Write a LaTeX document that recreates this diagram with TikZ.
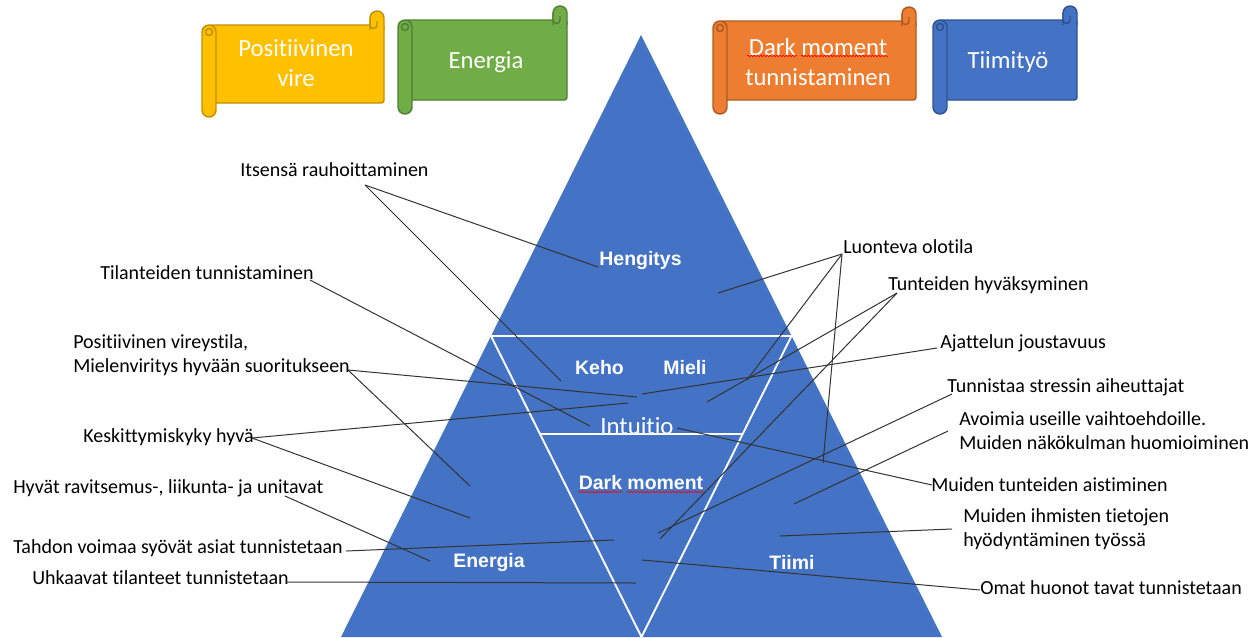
\documentclass[tikz,border=0pt]{standalone}
\usepackage{fontspec}
\setmainfont{Carlito}[Ligatures={NoCommon,NoContextual}]
\newfontfamily\boldsans{Liberation Sans}
\usetikzlibrary{decorations.pathmorphing}
\definecolor{pyrblue}{HTML}{4472C4}
\definecolor{scrYellow}{HTML}{FFC000}
\definecolor{scrYellowLine}{HTML}{BF9000}
\definecolor{scrGreen}{HTML}{70AD47}
\definecolor{scrGreenLine}{HTML}{507E32}
\definecolor{scrOrange}{HTML}{ED7D31}
\definecolor{scrOrangeLine}{HTML}{AE5A21}
\definecolor{scrBlue}{HTML}{4472C4}
\definecolor{scrBlueLine}{HTML}{2F528F}

% horizontal scroll: #1 left, #2 top of curl, #3 right, #4 bottom of body, #5 fill, #6 outline
\newcommand\drawscroll[6]{%
  \begin{scope}[fill=#5, draw=#6, line width=1.1pt, line join=round]
    \filldraw[rounded corners=2pt] ({#1+7},{#2+14}) rectangle (#3,#4);
    \filldraw ({#3-14},{#2+19}) -- ({#3-14},{#2+7}) arc (180:360:7) -- ({#3},{#2+19});
    \draw ({#3-14},{#2+7}) -- ({#3-14},{#2+14}) arc (180:0:3.5) -- ({#3-7},{#2+10});
    \filldraw ({#1},{#2+21}) -- ({#1},{#4+7}) arc (180:0:7) -- ({#1+14},{#2+21}) arc (0:-180:7) -- cycle;
    \draw ({#1+7},{#2+21}) circle (3.5);
  \end{scope}}

\tikzset{
  lbl/.style={anchor=west, inner sep=0pt, align=left, text=black,
    font=\fontsize{15}{18}\selectfont},
  inlbl/.style={inner sep=0pt, text=white,
    font=\boldsans\bfseries\fontsize{14.6}{17}\selectfont},
  scrtxt/.style={inner sep=0pt, text=white, align=center,
    font=\fontsize{18.5}{23}\selectfont},
  conn/.style={draw=black!80, line width=0.75pt},
  whiteline/.style={draw=white, line width=1.4pt},
  spell/.style={draw=red, line width=0.45pt, decorate,
    decoration={snake, amplitude=0.6pt, segment length=2.4pt}}
}

\begin{document}
\begin{tikzpicture}[x=0.75pt, y=-0.75pt]
\useasboundingbox (0,0) rectangle (1260,637);

% ---- scrolls ----
\drawscroll{202}{11}{384}{103}{scrYellow}{scrYellowLine}
\drawscroll{398}{6}{567}{100}{scrGreen}{scrGreenLine}
\drawscroll{713}{7}{916}{100}{scrOrange}{scrOrangeLine}
\drawscroll{933}{6}{1077}{100}{scrBlue}{scrBlueLine}
\node[scrtxt] (sPos) at (296,63) {Positiivinen\\vire};
\node[scrtxt] (sEne) at (486,62) {Energia};
\node[scrtxt] (sDark) at (818,62) {Dark moment\\tunnistaminen};
\node[scrtxt] (sTiim) at (1008,62) {Tiimityö};
\draw[spell] (747,56) -- (797,56);
\draw[spell] (801,56) -- (888,56);

% ---- pyramid ----
\coordinate (apex) at (641,35);
\coordinate (bl) at (341,637);
\coordinate (br) at (942,637);
\coordinate (ml) at (491,336);
\coordinate (mr) at (791.5,336);
\coordinate (mb) at (641.5,637);
\coordinate (hl) at (540,434);
\coordinate (hr) at (742.5,434);
\fill[pyrblue] (apex) -- (bl) -- (br) -- cycle;
\draw[whiteline] (ml) -- (mr);
\draw[whiteline] (ml) -- (mb) -- (mr);
\draw[whiteline, line width=1.1pt] (hl) -- (hr);

% ---- labels inside the pyramid ----
\node[inlbl] (heng) at (640.5,260) {Hengitys};
\node[inlbl] (keho) at (599.5,368) {Keho};
\node[inlbl] (mieli) at (685,368) {Mieli};
\node[inlbl] (dark) at (641,483) {Dark moment};
\node[inlbl] (ener) at (489,562) {Energia};
\node[inlbl] (tiimi) at (792,562) {Tiimi};
\node[inner sep=0pt, text=white, font=\fontsize{18.6}{22}\selectfont] (intu) at (637,426) {Intuitio};
\draw[spell] (578,492) -- (622,492);
\draw[spell] (627,492) -- (704,492);

% ---- left labels ----
\node[lbl] (lItse) at (240,170) {Itsensä rauhoittaminen};
\node[lbl] (lTila) at (100,273) {Tilanteiden tunnistaminen};
\node[lbl] (lPosi) at (73,355) {Positiivinen vireystila,\\Mielenviritys hyvään suoritukseen};
\node[lbl] (lKesk) at (83,437) {Keskittymiskyky hyvä};
\node[lbl] (lHyva) at (13,488) {Hyvät ravitsemus-, liikunta- ja unitavat};
\node[lbl] (lTahd) at (13,548) {Tahdon voimaa syövät asiat tunnistetaan};
\node[lbl] (lUhka) at (32,578) {Uhkaavat tilanteet tunnistetaan};

% ---- right labels ----
\node[lbl] (rLuon) at (843,247) {Luonteva olotila};
\node[lbl] (rTunt) at (888,285) {Tunteiden hyväksyminen};
\node[lbl] (rAjat) at (940,343) {Ajattelun joustavuus};
\node[lbl] (rStre) at (947,387) {Tunnistaa stressin aiheuttajat};
\node[lbl] (rAvoi) at (959,431) {Avoimia useille vaihtoehdoille.\\Muiden näkökulman huomioiminen};
\node[lbl] (rMuit) at (931,485) {Muiden tunteiden aistiminen};
\node[lbl] (rMuii) at (963,529) {Muiden ihmisten tietojen\\hyödyntäminen työssä};
\node[lbl] (rOmat) at (980,588) {Omat huonot tavat tunnistetaan};

% ---- connector end points ----
\coordinate (aItse) at (365,185);
\coordinate (aTila) at (310,280);
\coordinate (aPosi) at (348,370);
\coordinate (aKesk) at (252,438);
\coordinate (aHyva) at (285,496);
\coordinate (aTahd) at (346,551);
\coordinate (aUhka) at (286,582);
\coordinate (aLuon) at (842,254);
\coordinate (aTunt) at (897,293);
\coordinate (aAjat) at (937,348);
\coordinate (aStre) at (952,394);
\coordinate (aAvoi) at (948,431);
\coordinate (aMuit) at (932,485);
\coordinate (aMuii) at (952,529);
\coordinate (aOmat) at (980,590);

\coordinate (p1) at (598,267);
\coordinate (p2) at (561,381);
\coordinate (p3) at (590,426);
\coordinate (p4) at (637,397);
\coordinate (p5) at (470,486);
\coordinate (p6) at (628,403);
\coordinate (p7) at (470,518);
\coordinate (p8) at (430,561);
\coordinate (p9) at (614,540);
\coordinate (p10) at (636,583);
\coordinate (q1) at (718,293);
\coordinate (q2) at (747,380);
\coordinate (q3) at (823,463);
\coordinate (q4) at (707,402);
\coordinate (q5) at (660,539);
\coordinate (q6) at (642,394);
\coordinate (q7) at (658,533);
\coordinate (q8) at (794,504);
\coordinate (q10) at (780,536);
\coordinate (q11) at (642,560);
\coordinate (qIntu) at (677,428);

% ---- connectors ----
\draw[conn] (aItse) -- (p1);
\draw[conn] (aItse) -- (p2);
\draw[conn] (aTila) -- (p3);
\draw[conn] (aPosi) -- (p4);
\draw[conn] (aPosi) -- (p5);
\draw[conn] (aKesk) -- (p6);
\draw[conn] (aKesk) -- (p7);
\draw[conn] (aHyva) -- (p8);
\draw[conn] (aTahd) -- (p9);
\draw[conn] (aUhka) -- (p10);
\draw[conn] (aLuon) -- (q1);
\draw[conn] (aLuon) -- (q2);
\draw[conn] (aLuon) -- (q3);
\draw[conn] (aTunt) -- (q4);
\draw[conn] (aTunt) -- (q5);
\draw[conn] (aAjat) -- (q6);
\draw[conn] (aStre) -- (q7);
\draw[conn] (aAvoi) -- (q8);
\draw[conn] (qIntu) -- (aMuit);
\draw[conn] (aMuii) -- (q10);
\draw[conn] (aOmat) -- (q11);
\end{tikzpicture}
\end{document}
